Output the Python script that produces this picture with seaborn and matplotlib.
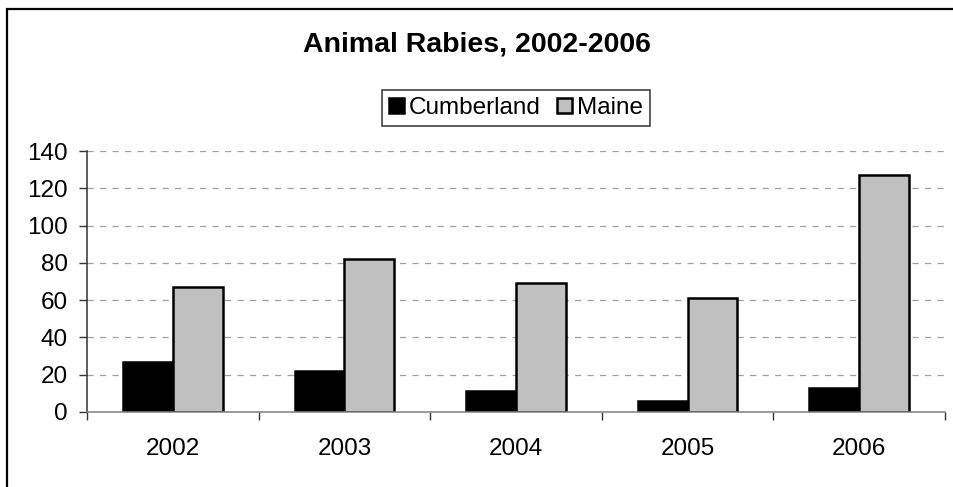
import pandas as pd
import seaborn as sns
import matplotlib.pyplot as plt
from matplotlib.patches import Rectangle

years = ['2002', '2003', '2004', '2005', '2006']
cumberland = [27, 22, 11, 6, 13]
maine = [67, 82, 69, 61, 127]
regions = ['Cumberland', 'Maine']
colors = {'Cumberland': '#000000', 'Maine': '#C0C0C0'}

df = pd.DataFrame({
    'Year': years * 2,
    'Cases': cumberland + maine,
    'Region': ['Cumberland'] * len(years) + ['Maine'] * len(years),
})

sns.set_style('white')
plt.rcParams['font.family'] = ['Liberation Sans', 'DejaVu Sans']
plt.rcParams['text.color'] = 'black'

W, H = 954, 487
fig = plt.figure(figsize=(W / 100, H / 100), dpi=100)
ax = fig.add_axes([87 / W, 75 / H, (945 - 87) / W, (412 - 151) / H])

sns.barplot(data=df, x='Year', y='Cases', hue='Region', hue_order=regions,
            palette=colors, saturation=1, width=0.58, gap=0,
            edgecolor='black', linewidth=1.8, ax=ax)

ax.set_ylim(0, 140)
ax.set_xlim(-0.5, 4.5)
ax.set_yticks(range(0, 141, 20))
ax.yaxis.grid(True, linestyle=(0, (5, 5)), color='#A0A0A0', linewidth=0.9)
ax.set_axisbelow(True)
ax.set_xlabel('')
ax.set_ylabel('')

# category boundaries as major ticks, labels on minor ticks
ax.set_xticks([i - 0.5 for i in range(len(years) + 1)])
ax.set_xticklabels([])
ax.set_xticks(range(len(years)), minor=True)
ax.set_xticklabels(years, minor=True)
ax.tick_params(axis='x', which='major', length=6, width=1, color='#333333', direction='out', bottom=True)
ax.tick_params(axis='x', which='minor', length=0, pad=19, labelsize=17.5, labelcolor='black')
ax.tick_params(axis='y', length=6, width=1, color='#333333', direction='out', left=True, pad=8,
               labelsize=17.5, labelcolor='black')

for side in ['top', 'right']:
    ax.spines[side].set_visible(False)
ax.spines['left'].set_color('#333333')
ax.spines['bottom'].set_color('#808080')
ax.spines['left'].set_linewidth(1.1)
ax.spines['bottom'].set_linewidth(1.1)

handles, labels = ax.get_legend_handles_labels()
ax.get_legend().remove()
leg = fig.legend(handles, labels, loc='center', bbox_to_anchor=(516 / W, 1 - 108 / H),
                 ncol=2, fontsize=17.5, frameon=True, fancybox=False, edgecolor='black',
                 handlelength=0.6, handleheight=0.6, handletextpad=0.2,
                 columnspacing=0.7, borderpad=0.3, borderaxespad=0)
leg.get_frame().set_linewidth(1.1)

fig.text(477 / W, 1 - 45 / H, 'Animal Rabies, 2002-2006', ha='center', va='center',
         fontsize=20.5, fontweight='bold', color='black')

# outer chart frame (only left and top edges are visible in the crop)
fig.add_artist(Rectangle((7 / W, -0.2), 2, 1.2 - 9 / H, transform=fig.transFigure,
                         fill=False, edgecolor='black', linewidth=1.6))

fig.savefig('out.png', dpi=100)
